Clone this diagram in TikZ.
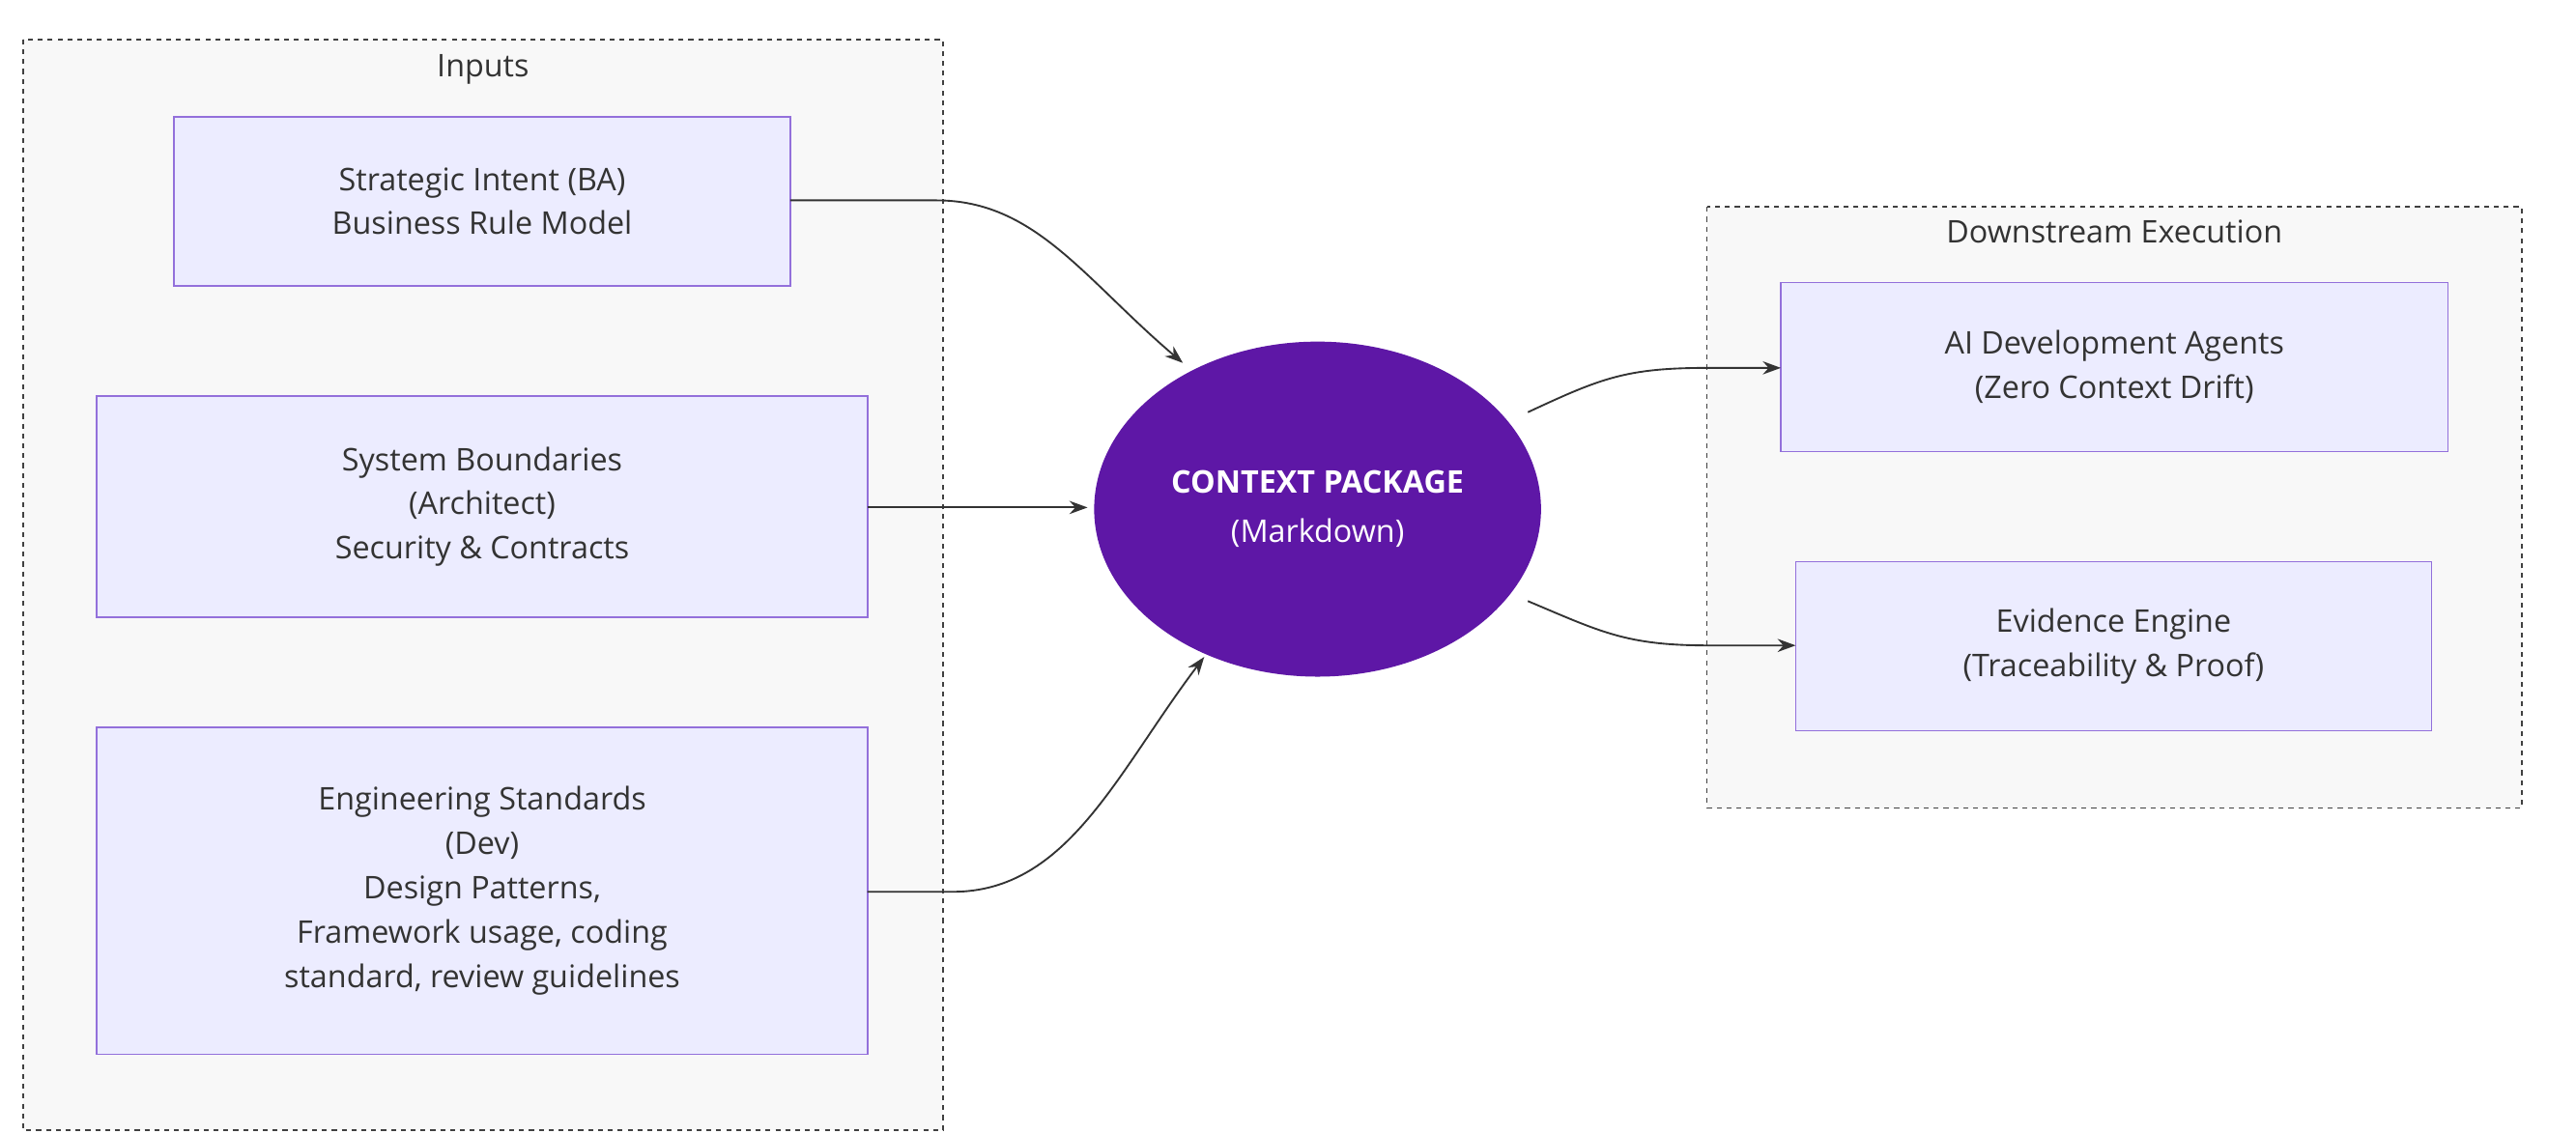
\documentclass[tikz,border=0pt]{standalone}
\usepackage{fontspec}
\setmainfont{Open Sans}
\usetikzlibrary{arrows.meta,shapes.geometric}
\definecolor{boxfill}{HTML}{ECECFF}
\definecolor{boxline}{HTML}{9370DB}
\definecolor{clfill}{HTML}{F8F8F8}
\definecolor{purp}{HTML}{5E17A6}
\definecolor{edge}{HTML}{333333}
\begin{document}
\begin{tikzpicture}[x=1pt,y=-1pt,
  cluster/.style={draw=black!75,dashed,line width=0.9pt,fill=clfill},
  box/.style={draw=boxline,fill=boxfill,line width=1pt},
  lbl/.style={font=\fontsize{19}{27}\selectfont,text=edge,align=center},
  conn/.style={draw=edge,line width=1.1pt,-{Stealth[length=11pt,width=8pt]}}]
\useasboundingbox (0,0) rectangle (1568,690);
\fill[white] (0,0) rectangle (1568,690);
\draw[cluster] (14,24) rectangle (574,688);
\node[lbl] (tin) at (294,42) {Inputs};
\draw[cluster] (1039,126) rectangle (1535,492);
\node[lbl] (tdown) at (1287,141) {Downstream Execution};
\draw[box] (106,71) rectangle (481,174);
\node[lbl] (bs) at (293.5,122.5) {Strategic Intent (BA)\\Business Rule Model};
\coordinate (bsR) at (481,122);
\draw[box] (59,241) rectangle (528,376);
\node[lbl] (sys) at (293.5,308.5) {System Boundaries\\(Architect)\\Security \& Contracts};
\coordinate (sysR) at (528,309);
\draw[box] (59,443) rectangle (528,642);
\node[lbl] (eng) at (293.5,542.5) {Engineering Standards\\(Dev)\\Design Patterns,\\Framework usage, coding\\standard, review guidelines};
\coordinate (engR) at (528,543);
\node[ellipse,fill=purp,minimum width=272pt,minimum height=204pt,inner sep=0pt,
  text=white,align=center,font=\fontsize{19}{30}\selectfont] (cp) at (802,310)
  {\textbf{CONTEXT PACKAGE}\\(Markdown)};
\draw[box] (1084,172) rectangle (1490,275);
\node[lbl] (ai) at (1287,223.5) {AI Development Agents\\(Zero Context Drift)};
\coordinate (aiL) at (1084,224);
\draw[box] (1093,342) rectangle (1480,445);
\node[lbl] (ev) at (1286.5,393.5) {Evidence Engine\\(Traceability \& Proof)};
\coordinate (evL) at (1093,393);
\coordinate (cpA) at (720,221);
\coordinate (cpB) at (662,309);
\coordinate (cpC) at (733,400);
\coordinate (cpD) at (930,251);
\coordinate (cpE) at (930,366);
\draw[conn] (bsR) -- (570,122) .. controls (630,122) and (660,170) .. (cpA);
\draw[conn] (sysR) -- (cpB);
\draw[conn] (engR) -- (580,543) .. controls (650,543) and (680,470) .. (cpC);
\draw[conn] (cpD) .. controls (975,230) and (990,224) .. (1040,224) -- (aiL);
\draw[conn] (cpE) .. controls (975,385) and (990,393) .. (1040,393) -- (evL);
\end{tikzpicture}
\end{document}
